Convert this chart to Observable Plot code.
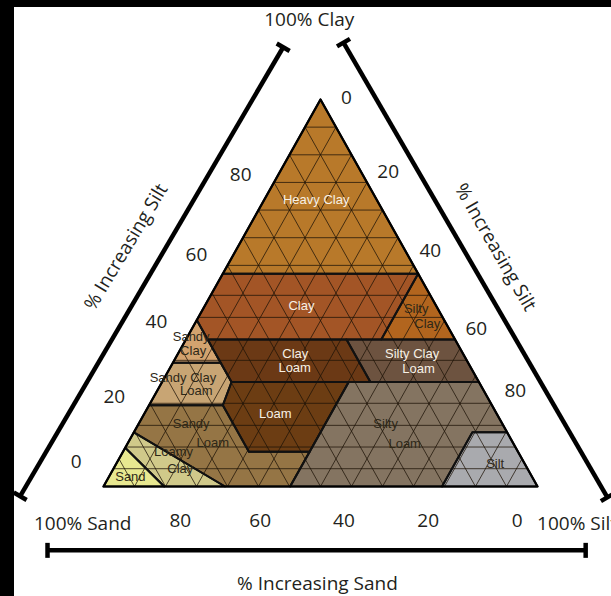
<!DOCTYPE html>
<html><head><meta charset="utf-8">
<script src="https://cdn.jsdelivr.net/npm/d3@7"></script>
<script src="https://cdn.jsdelivr.net/npm/@observablehq/plot@0.6"></script>
<style>
html,body{margin:0;padding:0;background:#000;width:611px;height:596px;overflow:hidden;}
#chart{position:absolute;left:14px;top:7px;width:597px;height:589px;background:#fff;overflow:hidden;}
</style></head><body><div id="chart"></div>
<script>
// ---- data (percentages) ----
const classNames = ["Heavy Clay","Clay","Silty Clay","Sandy Clay","Clay Loam","Silty Clay Loam","Sandy Clay Loam","Loam","Silty Loam","Sandy Loam","Loamy Sand","Sand","Silt"];
const classColors = ["#B8792A","#A35526","#B2651E","#D3A36F","#6B3915","#6D5340","#C8A574","#6C3D13","#847461","#957545","#D0C98A","#E8E890","#A9AAAE"];
// vertices as [sand %, clay %]
const classVertices = [
  [[0,100],[0,55],[45,55]],
  [[45,55],[0,55],[17,38],[57,38],[57,43]],
  [[0,55],[0,38],[17,38]],
  [[57,43],[57,32],[68,32]],
  [[57,38],[25,38],[25,27],[57,27]],
  [[25,38],[0,38],[0,27],[25,27]],
  [[68,32],[57,32],[57,27],[62,21],[79,21]],
  [[57,27],[30,27],[48,9],[62,9],[62,21]],
  [[30,27],[0,27],[0,14],[8,14],[22,0],[57,0],[48,9]],
  [[79,21],[62,21],[62,9],[48,9],[57,0],[72,0],[86,14]],
  [[86,14],[72,0],[86,0],[90,10]],
  [[90,10],[86,0],[100,0]],
  [[8,14],[0,14],[0,0],[22,0]]
];
// class labels: text lines, position [sand, clay], dark or light text
const labelText  = ["Heavy Clay","Clay","Silty","Clay","Clay","Loam","Silty Clay","Loam","Loam","Sandy","Clay","Sandy Clay","Loam","Sandy","Loam","Loamy","Clay","Sand","Silty","Loam","Silt"];
const labelSand  = [14,31,5,4.4,38.6,40.6,11.7,12.2,51,60.5,61.8,67.6,66.3,71.7,69.1,79.4,80,92.6,26.9,25.1,6.8];
const labelClay  = [74,46.8,45.9,42,34.4,30.7,34.4,30.4,18.8,38.6,35.1,28.2,24.6,16.2,11.4,8.9,4.6,2.4,16.2,11,5.9];
const labelLight = [1,1,0,0,1,1,1,1,1,0,0,0,0,0,0,0,0,0,0,0,0];
// grid (triangular lattice) levels
const latticeLevels = [7.14,14.29,21.43,28.57,35.71,42.86,50,57.14,64.29,71.43,78.57,85.71,92.86];
const horizontalClay = [92.86,85.71,78.57,71.43,64.29,57.14,49.4,43.7,32.6,21.5,15.8,10.2,4.6];
// tick labels
const leftTicks = ["80","60","40","20","0"];
const leftTickU = [31.6,21.4,12.2,2.5,-6.3];
const leftTickC = [80.4,59.9,42.6,23.1,6.3];
const rightTicks = ["0","20","40","60","80"];
const rightTickU = [56.0,65.6,75.3,85.9,94.9];
const rightTickC = [100.4,81.2,61.0,40.8,24.8];
const bottomTicks = ["80","60","40","20","0"];
const bottomTickU = [17.7,36.1,55.4,74.8,95.3];
const bottomTickC = -8.8;
// axis frame lines [u1,c1,u2,c2]
const frameLines = [[41.4,113.5,-19.2,-2.5],[55.3,114.7,116.1,-2.8],[-12.9,-16.5,111.1,-16.5]];
// titles
const titleText = ["100% Clay","100% Sand","100% Silt","% Increasing Sand","% Increasing Silt","% Increasing Silt"];
const titleU = [47.4,-4.8,99.9,49.3,5.2,90.3];
const titleC = [120.6,-9.6,-9.6,-25.1,61.9,61.8];
const titleRotate = [0,0,0,0,-59,60];
const titleAnchor = ["middle","middle","start","middle","middle","middle"];

// ---- geometry helpers ----
const xRange = [89, 523], yRange = [479, 92];
const KX = (xRange[1]-xRange[0])/100, KY = (yRange[0]-yRange[1])/100;
const toU = (sand, clay) => 100 - sand - clay/2;

const polygons = classVertices.map((pts, i) => pts.map(([s,c]) => ({name: classNames[i], u: toU(s,c), c})));
const gridSegs = [];
for (const s of latticeLevels) gridSegs.push({u1: toU(s,100-s), c1: 100-s, u2: toU(s,0), c2: 0});
for (const t of latticeLevels) gridSegs.push({u1: toU(0,100-t), c1: 100-t, u2: toU(100-t,0), c2: 0});
for (const c of horizontalClay) gridSegs.push({u1: c/2, c1: c, u2: 100-c/2, c2: c});

const frames = frameLines.map(([u1,c1,u2,c2]) => ({u1,c1,u2,c2}));
const caps = [];
for (const f of frames) {
  const dx = (f.u2-f.u1)*KX, dy = -(f.c2-f.c1)*KY;
  const L = Math.hypot(dx,dy), nx = -dy/L, ny = dx/L, h = 7.5;
  for (const [u,c] of [[f.u1,f.c1],[f.u2,f.c2]]) {
    caps.push({u1: u + nx*h/KX, c1: c - ny*h/KY, u2: u - nx*h/KX, c2: c + ny*h/KY});
  }
}
const labels = labelText.map((t,i) => ({t, u: toU(labelSand[i], labelClay[i]), c: labelClay[i], light: labelLight[i]}));
const ticks = [
  ...leftTicks.map((t,i) => ({t, u: leftTickU[i], c: leftTickC[i]})),
  ...rightTicks.map((t,i) => ({t, u: rightTickU[i], c: rightTickC[i]})),
  ...bottomTicks.map((t,i) => ({t, u: bottomTickU[i], c: bottomTickC}))
];
const titles = titleText.map((t,i) => ({t, u: titleU[i], c: titleC[i], r: titleRotate[i], a: titleAnchor[i]}));
const outline = [{u:0,c:0},{u:100,c:0},{u:50,c:100}];

const FONT = "'Open Sans', 'Noto Sans', sans-serif";
const LFONT = "'Liberation Sans', Arial, sans-serif";
const marks = [];
polygons.forEach((p, i) => marks.push(Plot.line(p, {x: "u", y: "c", curve: "linear-closed", fill: classColors[i], stroke: "none"})));
marks.push(Plot.link(gridSegs, {x1: "u1", y1: "c1", x2: "u2", y2: "c2", stroke: "#1e1408", strokeWidth: 0.9, strokeOpacity: 0.85}));
polygons.forEach((p) => marks.push(Plot.line(p, {x: "u", y: "c", curve: "linear-closed", fill: "none", stroke: "#111", strokeWidth: 2})));
marks.push(Plot.line(outline, {x: "u", y: "c", curve: "linear-closed", fill: "none", stroke: "#000", strokeWidth: 2.2}));
marks.push(Plot.link(frames, {x1: "u1", y1: "c1", x2: "u2", y2: "c2", stroke: "#000", strokeWidth: 4.5}));
marks.push(Plot.link(caps, {x1: "u1", y1: "c1", x2: "u2", y2: "c2", stroke: "#000", strokeWidth: 4.5}));
marks.push(Plot.text(labels.filter(d => d.light), {x: "u", y: "c", text: "t", fill: "#f7f1e6", fontSize: 13, fontFamily: LFONT}));
marks.push(Plot.text(labels.filter(d => !d.light), {x: "u", y: "c", text: "t", fill: "#2e2818", fontSize: 13, fontFamily: LFONT}));
marks.push(Plot.text(ticks, {x: "u", y: "c", text: "t", fill: "#231f20", fontSize: 19, fontFamily: FONT}));
titles.forEach(d => marks.push(Plot.text([d], {x: "u", y: "c", text: "t", rotate: d.r, textAnchor: d.a, fill: "#231f20", fontSize: 19, fontFamily: FONT})));

const chart = Plot.plot({
  width: 597, height: 589, margin: 0,
  x: {domain: [0,100], range: xRange, axis: null},
  y: {domain: [0,100], range: yRange, axis: null},
  style: {background: "white", overflow: "visible"},
  marks
});
document.getElementById("chart").append(chart);
</script></body></html>
